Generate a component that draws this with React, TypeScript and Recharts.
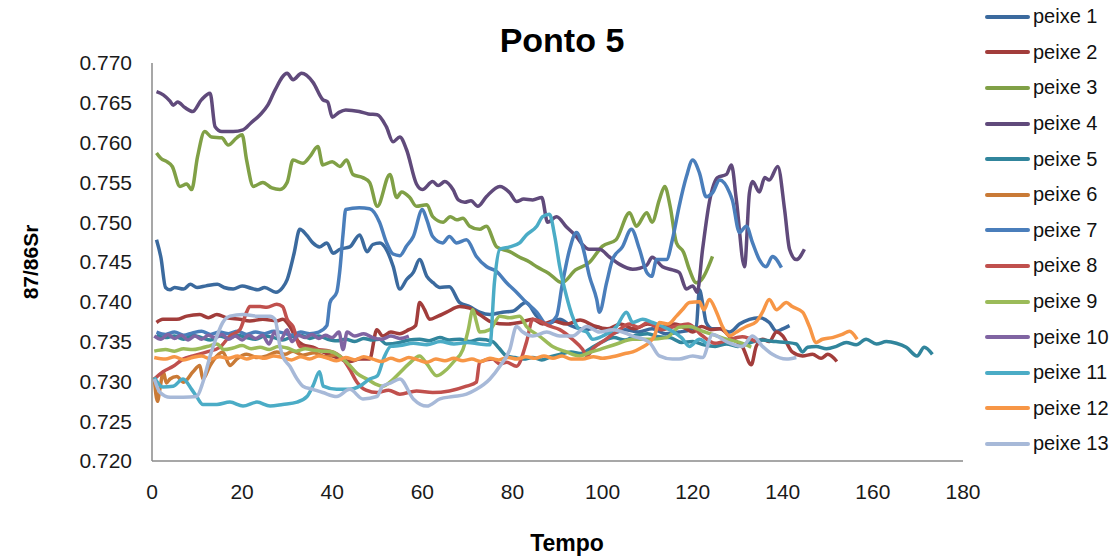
import React from 'react';
import { LineChart, Line, XAxis, YAxis, Legend } from 'recharts';

type P = [number, number];

const xTicks = [0, 20, 40, 60, 80, 100, 120, 140, 160, 180];
const yTicks = [0.72, 0.725, 0.73, 0.735, 0.74, 0.745, 0.75, 0.755, 0.76, 0.765, 0.77];
const seriesNames = ['peixe 1','peixe 2','peixe 3','peixe 4','peixe 5','peixe 6','peixe 7','peixe 8','peixe 9','peixe 10','peixe 11','peixe 12','peixe 13'];
const seriesColors = ['#3B6A9E','#A23D3B','#80A046','#604A7B','#31859C','#C97A36','#4A7EBB','#C0504D','#9BBB59','#8064A2','#4BACC6','#F79646','#A7B9D8'];

const peixe1: P[] = [[1,0.7478],[2,0.7455],[3,0.7418],[4,0.7415],[5,0.7418],[7,0.7416],[8.5,0.7422],[10,0.7418],[12,0.742],[14.5,0.7422],[16,0.7418],[18,0.7416],[20,0.742],[22,0.7417],[23.5,0.7415],[25,0.7418],[27.5,0.7412],[29,0.7418],[30,0.7428],[31.5,0.746],[32.8,0.7491],[34.3,0.7484],[35.7,0.7474],[37.2,0.7469],[38.8,0.7474],[40.2,0.7461],[41.7,0.7466],[43.9,0.7469],[46.1,0.7484],[47.7,0.7463],[49,0.7472],[50.6,0.7474],[52,0.7466],[53.5,0.7445],[55,0.7416],[56.5,0.7428],[58,0.7437],[59.4,0.7453],[61,0.7432],[62.4,0.7424],[63.9,0.7418],[66,0.7419],[68.3,0.7399],[70.5,0.7394],[72.7,0.7387],[75,0.7384],[77.8,0.7387],[80,0.7388],[83,0.7399],[85.4,0.7382],[87.6,0.7372],[90.5,0.7378],[93,0.737],[96,0.7365],[99,0.7368],[102,0.736],[105,0.7365],[108,0.7362],[111,0.7366],[114,0.736],[117,0.7362],[119.5,0.7365],[120.8,0.7369],[121.5,0.7415],[122.3,0.7395],[123,0.7374],[124.4,0.7366],[126,0.7366],[128.2,0.7362],[130.4,0.7372],[132.6,0.7378],[134.8,0.738],[137,0.7374],[138.6,0.7363],[140,0.7366],[141.5,0.737]];

const peixe2: P[] = [[1,0.7374],[2.4,0.7378],[5.5,0.7378],[7.7,0.7382],[10.6,0.7384],[12.5,0.738],[14.4,0.7384],[16.6,0.738],[19.5,0.7378],[21.7,0.7376],[24.6,0.7378],[27.7,0.7376],[29,0.7378],[30.6,0.7369],[32.2,0.7352],[33.5,0.7346],[35.7,0.7343],[37.9,0.7337],[41,0.733],[43.9,0.7325],[46.1,0.7328],[48.3,0.7328],[49.9,0.7365],[51.2,0.7357],[53,0.7362],[55,0.736],[57,0.7365],[58.5,0.737],[59.4,0.7399],[60.5,0.739],[61.6,0.7378],[63.5,0.7382],[65.4,0.7387],[68.3,0.7394],[70.5,0.7392],[72.7,0.7384],[75.6,0.7374],[78.7,0.7372],[81.6,0.7374],[84.5,0.7378],[86.7,0.7372],[89,0.7376],[92,0.7372],[95,0.7377],[98,0.737],[101,0.7366],[104,0.7372],[107,0.7366],[110,0.7372],[113,0.7368],[116,0.7372],[118.6,0.7366],[120,0.7362],[122,0.7369],[124,0.7365],[126,0.7366],[128.8,0.7353],[131,0.7344],[133,0.7321],[134.1,0.7344],[135.5,0.7353],[137,0.735],[138.6,0.7362],[140,0.7357],[142.1,0.7337],[144.4,0.7332],[146.6,0.7334],[148.5,0.7329],[150,0.7334],[152,0.7325]];

const peixe3: P[] = [[1,0.7587],[2,0.758],[3.3,0.7576],[4.5,0.757],[6.2,0.7545],[7.7,0.7548],[8.8,0.7541],[10.1,0.7582],[11.7,0.7614],[13.2,0.7607],[15.5,0.7606],[16.9,0.7597],[18.8,0.7606],[20,0.761],[21,0.7578],[22.5,0.7545],[24.6,0.755],[26.6,0.7543],[28.4,0.7541],[30,0.755],[31.3,0.7578],[33.5,0.7574],[35,0.7582],[36.8,0.7595],[37.9,0.7572],[40,0.7576],[41.7,0.757],[43.2,0.7578],[44.6,0.756],[46.8,0.7556],[48.3,0.755],[50,0.752],[52.8,0.756],[54.3,0.7531],[55.4,0.7538],[57.2,0.7531],[58.7,0.752],[61,0.7522],[62.3,0.7507],[64.6,0.75],[66.2,0.7507],[67.6,0.7503],[69,0.7505],[70.5,0.7495],[72.7,0.7491],[74.2,0.7495],[76.5,0.7469],[79.4,0.7463],[81.6,0.7456],[83.8,0.745],[85.4,0.7444],[88,0.7436],[91,0.7424],[94,0.744],[97,0.7449],[100,0.747],[103,0.7478],[106,0.7512],[107.5,0.7495],[109.8,0.7512],[111,0.75],[112.6,0.7528],[113.8,0.7545],[115,0.752],[116.4,0.7474],[118,0.7462],[119.3,0.744],[120.8,0.7424],[122,0.7428],[124.4,0.7457]];

const peixe4: P[] = [[1,0.7664],[2.5,0.766],[4,0.7652],[4.7,0.7647],[5.7,0.7651],[7.3,0.7644],[9,0.7639],[11,0.7654],[12.9,0.7662],[14,0.762],[15.5,0.7614],[18,0.7614],[20.2,0.7616],[22,0.7625],[24,0.7635],[25.7,0.7647],[27.3,0.7666],[30,0.7687],[31.3,0.7679],[33.2,0.7687],[35.7,0.7676],[37.9,0.7654],[39,0.7651],[40,0.7632],[41.5,0.7638],[43,0.7641],[46,0.7639],[48,0.7636],[50,0.7635],[52,0.762],[53.5,0.7601],[55,0.7607],[56.5,0.7591],[58.7,0.7548],[60,0.7541],[62.3,0.7551],[63.5,0.7546],[65,0.7551],[66.8,0.7541],[68,0.7528],[69.4,0.7525],[70.8,0.7527],[72.3,0.752],[74.2,0.7532],[77.2,0.7545],[79.4,0.7537],[80.9,0.7526],[82.5,0.7529],[84.5,0.7528],[86.5,0.7531],[87.8,0.75],[89.8,0.7507],[92,0.7494],[94.2,0.7482],[95.5,0.7472],[97,0.7466],[99.3,0.7466],[101.6,0.7456],[103.8,0.7447],[106.7,0.7441],[109.8,0.7446],[111,0.7456],[113.3,0.7444],[115.5,0.744],[117,0.7437],[118.6,0.7416],[120,0.742],[121,0.7412],[122.2,0.7466],[123.7,0.7525],[125.5,0.7556],[127.5,0.756],[128.6,0.7572],[129.7,0.7528],[131.5,0.7444],[132.6,0.7537],[133.3,0.7551],[134.8,0.7538],[136,0.7556],[137,0.7553],[138.9,0.757],[140.4,0.7516],[141.5,0.7466],[143,0.7453],[144.8,0.7466]];

const peixe5: P[] = [[1,0.7358],[3,0.7355],[5,0.7357],[7,0.7353],[9,0.7358],[11,0.7355],[13,0.7352],[15,0.7357],[17,0.7354],[19,0.7358],[21,0.7355],[23,0.7353],[25,0.7357],[27,0.7355],[29,0.7352],[31,0.7356],[33,0.7358],[35,0.7354],[37,0.7357],[39,0.7353],[41,0.7351],[43,0.7353],[45,0.735],[47,0.7354],[49,0.7352],[50.5,0.7353],[52,0.7347],[55,0.7349],[57,0.7352],[59.4,0.7353],[61.5,0.7351],[63.9,0.7355],[66,0.7352],[68.3,0.7353],[70.5,0.735],[72.7,0.7353],[75.6,0.735],[77,0.7342],[78.7,0.7332],[80.5,0.733],[82.5,0.7328],[84.5,0.733],[86.5,0.7327],[88.5,0.7331],[90.5,0.7334],[93,0.7337],[95,0.7335],[97.5,0.7342],[100,0.735],[102.5,0.7355],[105,0.7352],[107.5,0.7358],[110,0.736],[112.5,0.7356],[115,0.7355],[117.5,0.7349],[120,0.735],[122.5,0.7346],[125,0.7344],[127.5,0.7347],[130,0.7344],[132.5,0.7348],[135,0.7352],[138.5,0.735],[140.8,0.7349],[143,0.7347],[144.4,0.7337],[145.5,0.7343],[147.4,0.7344],[149.7,0.7341],[151.9,0.7344],[154.1,0.7349],[156.3,0.7346],[158.5,0.7353],[160.8,0.7347],[163,0.735],[165.2,0.7348],[167.4,0.7343],[169.8,0.7332],[171.4,0.7343],[173.2,0.7334]];

const peixe6: P[] = [[0.5,0.7305],[1.2,0.7275],[1.8,0.7292],[2.5,0.7312],[3.2,0.7298],[4,0.7303],[5.5,0.7306],[7,0.7299],[9.1,0.7312],[10.6,0.732],[11.3,0.7303],[12.9,0.732],[14.4,0.7332],[15.7,0.7337],[17.3,0.732],[18.8,0.7328],[21,0.7334],[23.3,0.733],[25.5,0.7332],[27.7,0.7337],[29.5,0.7334],[31.3,0.7338],[33.5,0.7333],[36,0.7336],[38.5,0.7331],[41,0.7334]];

const peixe7: P[] = [[1,0.7362],[3,0.7359],[5,0.7362],[7,0.7358],[9,0.7361],[11,0.7363],[13,0.7359],[15,0.7362],[17,0.736],[19,0.7363],[21,0.7359],[23,0.7362],[25,0.736],[27,0.7363],[29,0.7361],[31,0.7358],[33,0.7362],[35,0.736],[37,0.7362],[38.8,0.737],[39.5,0.7399],[41,0.7412],[41.7,0.744],[42.4,0.7485],[43,0.7516],[46,0.7518],[48.3,0.7517],[50.5,0.75],[52,0.7475],[53.5,0.746],[55,0.7458],[56.5,0.747],[58,0.7482],[60,0.7516],[61,0.7503],[62.3,0.7482],[64.5,0.7474],[66,0.7482],[67.6,0.7474],[69.8,0.7478],[72,0.7457],[74.3,0.7444],[76.5,0.7438],[78.7,0.7424],[80.9,0.7412],[83.1,0.7399],[85.4,0.7387],[87.6,0.7372],[89.8,0.7382],[91,0.742],[92.7,0.7466],[94.2,0.7487],[95.6,0.7469],[97.1,0.7432],[98.7,0.7403],[99.3,0.7387],[100.9,0.7424],[102.2,0.7453],[104.4,0.7469],[106.4,0.7491],[108.2,0.7466],[109.8,0.7437],[110.9,0.7432],[112,0.7453],[114.2,0.7453],[115.5,0.7478],[117,0.752],[118.6,0.7557],[120,0.7578],[121.5,0.7562],[123,0.7532],[124.4,0.7537],[126,0.7553],[128.2,0.7537],[128.8,0.7528],[130.4,0.7487],[131.9,0.7495],[133.3,0.7474],[134.8,0.7453],[136.3,0.7444],[137.7,0.7457],[139.7,0.7443]];

const peixe8: P[] = [[0.5,0.7303],[2.4,0.7312],[4.7,0.7319],[6.9,0.7328],[9.1,0.7332],[12.2,0.7337],[15.1,0.7343],[17.3,0.7357],[19.5,0.7365],[21,0.7387],[21.7,0.7394],[24,0.7394],[25.5,0.7393],[27.7,0.7397],[29,0.7394],[30,0.7378],[31.3,0.7369],[32.8,0.7344],[34.5,0.7342],[36.6,0.734],[39.5,0.7338],[42.4,0.7328],[43.9,0.7315],[45.5,0.7299],[47.5,0.7289],[50,0.7286],[52.5,0.7289],[55,0.7284],[58.7,0.7288],[62.3,0.7286],[66,0.7288],[69.8,0.7294],[72,0.7299],[72.7,0.7324],[75.6,0.7328],[77.2,0.7322],[78.7,0.7324],[80.9,0.7319],[83.1,0.7349],[84.5,0.7378],[86,0.7376],[88,0.737],[90.5,0.7365],[93.3,0.7353],[95.6,0.734],[96.5,0.7332],[98,0.7342],[100,0.735],[103,0.7362],[106,0.7372],[108,0.7368],[110,0.7374],[113,0.7365],[116,0.7369],[119,0.7372],[122,0.7358],[125,0.7348],[128,0.7352],[131,0.7356],[134,0.735]];

const peixe9: P[] = [[0.5,0.7338],[3,0.734],[5,0.7338],[7,0.7341],[9,0.734],[11,0.7342],[13,0.7345],[14.4,0.7347],[16,0.734],[18,0.7342],[20,0.7345],[22,0.7341],[24,0.7343],[26,0.734],[28,0.7344],[30,0.7342],[32,0.7338],[34,0.7341],[36,0.7339],[38,0.7338],[40,0.7337],[42,0.733],[43.9,0.732],[45.5,0.731],[47.7,0.7303],[49.5,0.7297],[51.2,0.7294],[53,0.73],[55,0.7311],[57,0.7322],[59.4,0.7332],[61,0.7322],[63.2,0.7307],[65.4,0.7315],[67,0.7325],[69,0.734],[70.2,0.7365],[71.2,0.739],[72,0.7375],[72.7,0.7362],[75,0.7365],[77.2,0.7382],[79.4,0.738],[81.6,0.7382],[83.1,0.7369],[86,0.7357],[88.9,0.7344],[92,0.7337],[94.9,0.7332],[97,0.7336],[99.3,0.734],[103.1,0.7347],[106.7,0.7353],[110.4,0.7353],[114.2,0.7355],[117,0.7368],[119.3,0.7369],[122.2,0.7363],[124.4,0.7359],[127.5,0.7353],[130.4,0.7349],[133,0.7343]];

const peixe10: P[] = [[0.5,0.7357],[2,0.7353],[3.5,0.7359],[5,0.7354],[6.5,0.7358],[8,0.7352],[9.5,0.7357],[11,0.7353],[12.5,0.7358],[14,0.7355],[15.5,0.7359],[17,0.7353],[18.5,0.7357],[20,0.7352],[21.5,0.7358],[23,0.7354],[24.5,0.7358],[26,0.7347],[27.2,0.7362],[28.5,0.7352],[30,0.7365],[31,0.735],[32.5,0.7358],[34,0.7355],[35.5,0.7359],[37,0.7354],[38.5,0.7358],[40,0.7355],[41.5,0.7362],[42.4,0.734],[43.3,0.7362],[45,0.7357],[47,0.736],[49,0.7355],[51,0.7353],[53,0.7357],[55,0.7354],[57,0.7357]];

const peixe11: P[] = [[0.5,0.7305],[2.4,0.7293],[4.7,0.7294],[6.9,0.7303],[8.8,0.729],[9.9,0.7281],[11.3,0.7271],[14.4,0.7271],[17.3,0.7274],[20.2,0.7269],[23.3,0.7274],[26.2,0.7269],[29,0.7271],[32.2,0.7274],[34.4,0.7281],[35.7,0.7294],[37.2,0.7312],[38,0.7294],[41,0.729],[43.9,0.729],[46.1,0.7294],[48.3,0.7303],[50,0.7307],[51.5,0.733],[53,0.7344],[55,0.7345],[58,0.7348],[61,0.7346],[64,0.735],[67,0.7347],[70,0.7349],[72.7,0.7347],[75,0.7346],[76,0.7424],[77.2,0.7466],[79.4,0.7469],[81.6,0.7474],[83.1,0.7484],[85.4,0.7495],[86.7,0.7507],[88.2,0.751],[89.4,0.7482],[90.5,0.7444],[92,0.7407],[93.3,0.7382],[94.9,0.7365],[96.5,0.7362],[97.8,0.7353],[100,0.7357],[103.1,0.7369],[105.3,0.7387],[106.7,0.7374],[108.9,0.7378],[111.1,0.7374],[113.3,0.7369],[115.5,0.7363],[117.5,0.7355],[119.3,0.7344],[121.5,0.7353],[123.7,0.7344]];

const peixe12: P[] = [[0.5,0.733],[3,0.7328],[5,0.7331],[7,0.7327],[9,0.733],[11,0.7332],[13,0.7328],[15,0.7331],[17,0.7329],[19,0.7332],[21,0.7328],[23,0.7331],[25,0.7329],[27,0.7332],[29,0.733],[31,0.7327],[33,0.7331],[35,0.7328],[37,0.7332],[39,0.7329],[41,0.7326],[43,0.733],[45,0.7327],[47,0.7331],[49,0.7328],[51,0.7325],[53,0.7329],[55,0.7326],[57,0.733],[59,0.7327],[61,0.7324],[63,0.7328],[65,0.7326],[67,0.7329],[69,0.7326],[71,0.7328],[73,0.7325],[75,0.7329],[77,0.7327],[79,0.733],[81,0.7328],[83,0.7331],[85,0.7329],[87,0.7332],[89,0.7329],[91,0.7332],[93,0.7328],[95.6,0.7328],[98,0.7331],[100,0.7329],[103,0.7332],[105,0.7335],[106.7,0.7337],[108.5,0.7342],[110.4,0.7349],[111.5,0.7357],[112.6,0.7374],[114.5,0.7372],[116.4,0.7382],[117.7,0.739],[119.3,0.7399],[121.5,0.74],[122.5,0.739],[123.7,0.7403],[125.3,0.7387],[126.6,0.7369],[128.2,0.7357],[129.7,0.7362],[131.9,0.7369],[134.1,0.7375],[135.5,0.7387],[137,0.7403],[138.6,0.739],[140.8,0.7399],[142.1,0.7394],[144.4,0.7387],[145.9,0.7369],[147.4,0.7349],[148.8,0.7353],[151,0.7355],[153.2,0.7359],[154.8,0.7363],[156.5,0.7353]];

const peixe13: P[] = [[0.5,0.7303],[1.8,0.7286],[4,0.728],[6.9,0.728],[9.9,0.7281],[11.3,0.7299],[12.9,0.7332],[14.4,0.7357],[15.7,0.7374],[17.3,0.7382],[20.2,0.7384],[23.3,0.7382],[26.2,0.7382],[27.3,0.7378],[28.4,0.7344],[29,0.7332],[30.6,0.7319],[32.2,0.7303],[33.5,0.7294],[35.7,0.729],[37.9,0.7286],[41,0.7281],[43.9,0.729],[46.8,0.7278],[49.9,0.7281],[51.2,0.7294],[53,0.7298],[55,0.7303],[58,0.7278],[61,0.7269],[63.9,0.7278],[66.8,0.7281],[69.8,0.7284],[72,0.729],[75,0.7303],[77.2,0.7319],[79.4,0.734],[80.9,0.7369],[82.3,0.7362],[84.5,0.7357],[87.6,0.7362],[90.5,0.7357],[93.3,0.7357],[96.5,0.7369],[99.3,0.7362],[102.2,0.7365],[106.7,0.7357],[110.4,0.7349],[112.6,0.7332],[115.5,0.7328],[117,0.7328],[120,0.7332],[122.2,0.733],[124.4,0.7359],[127.5,0.735],[131,0.7344],[133.3,0.7357],[135.5,0.7344],[137.7,0.7334],[140.8,0.7328],[143,0.733]];

const seriesData: P[][] = [peixe1, peixe2, peixe3, peixe4, peixe5, peixe6, peixe7, peixe8, peixe9, peixe10, peixe11, peixe12, peixe13];

const FONT = '"Liberation Sans", Arial, sans-serif';

const renderLegend = (props: any) => {
  const payload: any[] = [...(props.payload || [])].sort(
    (a: any, b: any) => seriesNames.indexOf(a.value) - seriesNames.indexOf(b.value)
  );
  return (
    <div style={{ fontFamily: FONT }}>
      {payload.map((item: any, i: number) => (
        <div key={i} style={{ height: 35.6, display: 'flex', alignItems: 'center' }}>
          <div style={{ width: 45, height: 4, background: item.color, borderRadius: 2 }} />
          <span style={{ marginLeft: 3, fontSize: 20, color: '#111', whiteSpace: 'nowrap' }}>{item.value}</span>
        </div>
      ))}
    </div>
  );
};

export default function App() {
  return (
    <div style={{ position: 'absolute', left: 0, top: 0, width: 1120, height: 558, background: '#fff', fontFamily: FONT }}>
      <LineChart width={1120} height={558} margin={{ top: 63, right: 157, bottom: 37, left: 0 }}>
        <XAxis
          type="number"
          dataKey="t"
          domain={[0, 180]}
          ticks={xTicks}
          interval={0}
          tickLine={false}
          tickSize={0}
          tickMargin={23}
          height={60}
          axisLine={{ stroke: '#8a8a8a', strokeWidth: 1.5 }}
          tick={{ fontSize: 21, fill: '#1a1a1a', fontFamily: FONT }}
          allowDataOverflow
        />
        <YAxis
          type="number"
          domain={[0.72, 0.77]}
          ticks={yTicks}
          interval={0}
          width={152}
          tickLine={false}
          tickSize={0}
          tickMargin={20}
          axisLine={{ stroke: '#8a8a8a', strokeWidth: 1.5 }}
          tick={{ fontSize: 21, fill: '#1a1a1a', fontFamily: FONT }}
          tickFormatter={(v: number) => v.toFixed(3)}
          allowDataOverflow
        />
        <Legend
          layout="horizontal"
          verticalAlign="middle"
          align="center"
          content={renderLegend}
          wrapperStyle={{ position: 'absolute', left: 985, top: -1, width: 135, height: 470 }}
        />
        {seriesData.map((pts, i) => (
          <Line
            key={seriesNames[i]}
            name={seriesNames[i]}
            data={pts.map(([t, v]) => ({ t, v }))}
            dataKey="v"
            type="monotone"
            stroke={seriesColors[i]}
            strokeWidth={3.5}
            dot={false}
            activeDot={false}
            isAnimationActive={false}
          />
        ))}
      </LineChart>
      <svg width={1120} height={558} style={{ position: 'absolute', left: 0, top: 0, pointerEvents: 'none' }}>
        <text x={562} y={52} textAnchor="middle" fontSize={34} fontWeight="bold" fontFamily={FONT} fill="#000">Ponto 5</text>
        <text x={567} y={551} textAnchor="middle" fontSize={23} fontWeight="bold" fontFamily={FONT} fill="#000">Tempo</text>
        <text transform="translate(38,262) rotate(-90)" textAnchor="middle" fontSize={21} fontWeight="bold" fontFamily={FONT} fill="#000">87/86Sr</text>
      </svg>
    </div>
  );
}
